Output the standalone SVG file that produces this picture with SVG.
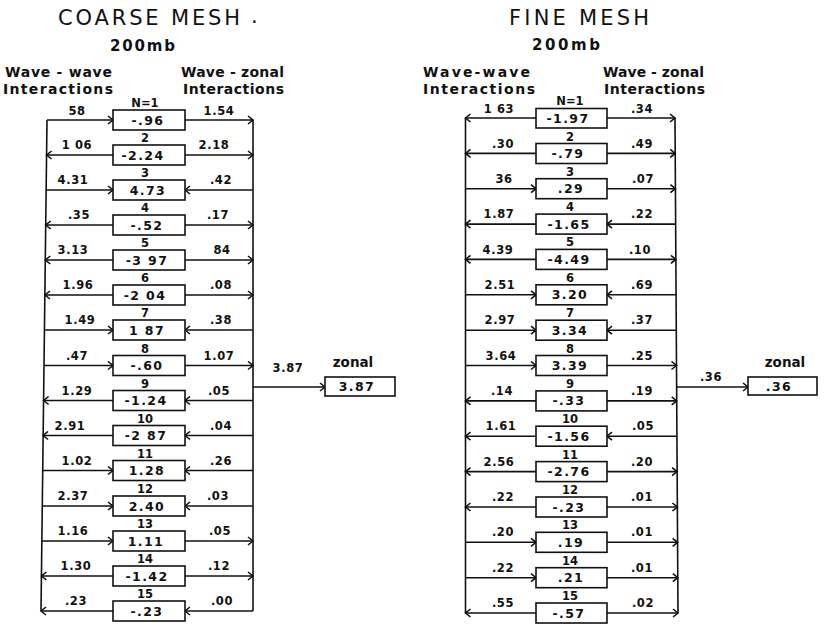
<svg xmlns="http://www.w3.org/2000/svg" width="824" height="626" viewBox="0 0 824 626">
<style>
.ln{stroke:#111;stroke-width:1.6;fill:none}
.bx{fill:#fff;stroke:#111;stroke-width:1.6}
.v{font-family:"DejaVu Sans","Liberation Sans",sans-serif;font-weight:bold;font-size:12.5px;letter-spacing:1.4px;text-anchor:middle;fill:#111}
.e{font-family:"DejaVu Sans","Liberation Sans",sans-serif;font-weight:bold;font-size:11.5px;letter-spacing:0.6px;text-anchor:middle;fill:#111}
.i{font-family:"DejaVu Sans","Liberation Sans",sans-serif;font-weight:bold;font-size:11.5px;text-anchor:middle;fill:#111}
.h{font-family:"DejaVu Sans","Liberation Sans",sans-serif;font-weight:bold;font-size:14px;fill:#111}
.t{font-family:"DejaVu Sans","Liberation Sans",sans-serif;font-size:21px;fill:#111}
.s{font-family:"DejaVu Sans","Liberation Sans",sans-serif;font-weight:bold;font-size:15px;fill:#111}
.z{font-family:"DejaVu Sans","Liberation Sans",sans-serif;font-weight:bold;font-size:13.5px;text-anchor:middle;fill:#111}
</style>
<defs>
<marker id="ah" markerUnits="userSpaceOnUse" markerWidth="10" markerHeight="10" refX="8" refY="5" orient="auto">
<path d="M3,1 L8,5 L3,9" fill="none" stroke="#111" stroke-width="1.6"/>
</marker>
</defs>
<rect width="824" height="626" fill="#fff"/>

<g id="headings">
<text class="t" x="58" y="25" textLength="182" lengthAdjust="spacing">COARSE MESH</text>
<text class="t" x="251" y="23">.</text>
<text class="s" x="110" y="51" textLength="65" lengthAdjust="spacing">200mb</text>
<text class="h" x="5" y="77" textLength="107" lengthAdjust="spacing">Wave - wave</text>
<text class="h" x="3" y="94" textLength="110" lengthAdjust="spacing">Interactions</text>
<text class="h" x="181" y="77" textLength="103" lengthAdjust="spacing">Wave - zonal</text>
<text class="h" x="183" y="94" textLength="101" lengthAdjust="spacing">Interactions</text>
<text class="t" x="509" y="25" textLength="140" lengthAdjust="spacing">FINE MESH</text>
<text class="s" x="532" y="50" textLength="68" lengthAdjust="spacing">200mb</text>
<text class="h" x="423" y="77" textLength="107" lengthAdjust="spacing">Wave-wave</text>
<text class="h" x="423" y="94" textLength="112" lengthAdjust="spacing">Interactions</text>
<text class="h" x="603" y="77" textLength="101" lengthAdjust="spacing">Wave - zonal</text>
<text class="h" x="604" y="94" textLength="101" lengthAdjust="spacing">Interactions</text>
</g>

<g id="connectors">
<path class="ln" d="M47,120 L41,611"/>
<path class="ln" d="M253,120 L253,611"/>
<path class="ln" d="M47,120 H113" marker-end="url(#ah)"/>
<path class="ln" d="M185,120 H253" marker-end="url(#ah)"/>
<path class="ln" d="M113,155 H46.6" marker-end="url(#ah)"/>
<path class="ln" d="M185,155 H253" marker-end="url(#ah)"/>
<path class="ln" d="M46.1,190 H113" marker-end="url(#ah)"/>
<path class="ln" d="M253,190 H185" marker-end="url(#ah)"/>
<path class="ln" d="M113,225 H45.7" marker-end="url(#ah)"/>
<path class="ln" d="M185,225 H253" marker-end="url(#ah)"/>
<path class="ln" d="M113,260 H45.3" marker-end="url(#ah)"/>
<path class="ln" d="M185,260 H253" marker-end="url(#ah)"/>
<path class="ln" d="M113,295 H44.9" marker-end="url(#ah)"/>
<path class="ln" d="M185,295 H253" marker-end="url(#ah)"/>
<path class="ln" d="M44.4,330 H113" marker-end="url(#ah)"/>
<path class="ln" d="M253,330 H185" marker-end="url(#ah)"/>
<path class="ln" d="M44,365.5 H113" marker-end="url(#ah)"/>
<path class="ln" d="M185,365.5 H253" marker-end="url(#ah)"/>
<path class="ln" d="M113,400.5 H43.6" marker-end="url(#ah)"/>
<path class="ln" d="M253,400.5 H185" marker-end="url(#ah)"/>
<path class="ln" d="M113,435.5 H43.1" marker-end="url(#ah)"/>
<path class="ln" d="M253,435.5 H185" marker-end="url(#ah)"/>
<path class="ln" d="M42.7,470.5 H113" marker-end="url(#ah)"/>
<path class="ln" d="M253,470.5 H185" marker-end="url(#ah)"/>
<path class="ln" d="M42.3,506 H113" marker-end="url(#ah)"/>
<path class="ln" d="M253,506 H185" marker-end="url(#ah)"/>
<path class="ln" d="M41.9,541 H113" marker-end="url(#ah)"/>
<path class="ln" d="M185,541 H253" marker-end="url(#ah)"/>
<path class="ln" d="M113,576 H41.4" marker-end="url(#ah)"/>
<path class="ln" d="M185,576 H253" marker-end="url(#ah)"/>
<path class="ln" d="M113,611 H41" marker-end="url(#ah)"/>
<path class="ln" d="M253,611 H185" marker-end="url(#ah)"/>
<path class="ln" d="M253,387 H325" marker-end="url(#ah)"/>
<path class="ln" d="M465.5,118 L465.5,613"/>
<path class="ln" d="M675,118 L678,613"/>
<path class="ln" d="M536,118 H465.5" marker-end="url(#ah)"/>
<path class="ln" d="M607,118 H675" marker-end="url(#ah)"/>
<path class="ln" d="M536,153.4 H465.5" marker-end="url(#ah)"/>
<path class="ln" d="M607,153.4 H675.2" marker-end="url(#ah)"/>
<path class="ln" d="M465.5,188.7 H536" marker-end="url(#ah)"/>
<path class="ln" d="M607,188.7 H675.4" marker-end="url(#ah)"/>
<path class="ln" d="M536,224.1 H465.5" marker-end="url(#ah)"/>
<path class="ln" d="M675.6,224.1 H607" marker-end="url(#ah)"/>
<path class="ln" d="M536,259.4 H465.5" marker-end="url(#ah)"/>
<path class="ln" d="M607,259.4 H675.9" marker-end="url(#ah)"/>
<path class="ln" d="M465.5,294.8 H536" marker-end="url(#ah)"/>
<path class="ln" d="M676.1,294.8 H607" marker-end="url(#ah)"/>
<path class="ln" d="M465.5,330.2 H536" marker-end="url(#ah)"/>
<path class="ln" d="M676.3,330.2 H607" marker-end="url(#ah)"/>
<path class="ln" d="M465.5,365.5 H536" marker-end="url(#ah)"/>
<path class="ln" d="M607,365.5 H676.5" marker-end="url(#ah)"/>
<path class="ln" d="M536,400.9 H465.5" marker-end="url(#ah)"/>
<path class="ln" d="M607,400.9 H676.7" marker-end="url(#ah)"/>
<path class="ln" d="M536,436.2 H465.5" marker-end="url(#ah)"/>
<path class="ln" d="M676.9,436.2 H607" marker-end="url(#ah)"/>
<path class="ln" d="M536,471.6 H465.5" marker-end="url(#ah)"/>
<path class="ln" d="M607,471.6 H677.1" marker-end="url(#ah)"/>
<path class="ln" d="M536,507 H465.5" marker-end="url(#ah)"/>
<path class="ln" d="M607,507 H677.4" marker-end="url(#ah)"/>
<path class="ln" d="M465.5,542.3 H536" marker-end="url(#ah)"/>
<path class="ln" d="M607,542.3 H677.6" marker-end="url(#ah)"/>
<path class="ln" d="M465.5,577.7 H536" marker-end="url(#ah)"/>
<path class="ln" d="M607,577.7 H677.8" marker-end="url(#ah)"/>
<path class="ln" d="M536,613 H465.5" marker-end="url(#ah)"/>
<path class="ln" d="M607,613 H678" marker-end="url(#ah)"/>
<path class="ln" d="M676.6,387 H748" marker-end="url(#ah)"/>
</g>

<g id="edge-labels">
<text class="e" x="77" y="114.5">58</text><text class="e" x="219" y="114.5">1.54</text>
<text class="e" x="77" y="149">1 06</text><text class="e" x="214" y="149">2.18</text>
<text class="e" x="73" y="184">4.31</text><text class="e" x="221" y="184">.42</text>
<text class="e" x="79" y="219">.35</text><text class="e" x="218" y="219">.17</text>
<text class="e" x="73" y="254">3.13</text><text class="e" x="222" y="254">84</text>
<text class="e" x="78" y="289">1.96</text><text class="e" x="221" y="289">.08</text>
<text class="e" x="80" y="324">1.49</text><text class="e" x="221" y="324">.38</text>
<text class="e" x="77" y="359.5">.47</text><text class="e" x="219" y="359.5">1.07</text>
<text class="e" x="77" y="394.5">1.29</text><text class="e" x="219" y="394.5">.05</text>
<text class="e" x="70" y="429.5">2.91</text><text class="e" x="221" y="429.5">.04</text>
<text class="e" x="77" y="464.5">1.02</text><text class="e" x="221" y="464.5">.26</text>
<text class="e" x="73" y="500">2.37</text><text class="e" x="218" y="500">.03</text>
<text class="e" x="73" y="535">1.16</text><text class="e" x="220" y="535">.05</text>
<text class="e" x="76" y="570">1.30</text><text class="e" x="219" y="570">.12</text>
<text class="e" x="76" y="605">.23</text><text class="e" x="222" y="605">.00</text>
<text class="e" x="288" y="372">3.87</text>

<text class="e" x="499" y="112.5">1 63</text><text class="e" x="642" y="112.5">.34</text>
<text class="e" x="503" y="147.5">.30</text><text class="e" x="642" y="147.5">.49</text>
<text class="e" x="504" y="183">36</text><text class="e" x="643" y="183">.07</text>
<text class="e" x="499" y="218">1.87</text><text class="e" x="642" y="218">.22</text>
<text class="e" x="498" y="253.5">4.39</text><text class="e" x="640" y="253.5">.10</text>
<text class="e" x="500" y="289">2.51</text><text class="e" x="642" y="289">.69</text>
<text class="e" x="500" y="324">2.97</text><text class="e" x="642" y="324">.37</text>
<text class="e" x="501" y="359.5">3.64</text><text class="e" x="642" y="359.5">.25</text>
<text class="e" x="502" y="395">.14</text><text class="e" x="642" y="395">.19</text>
<text class="e" x="501" y="430">1.61</text><text class="e" x="643" y="430">.05</text>
<text class="e" x="499" y="465.5">2.56</text><text class="e" x="642" y="465.5">.20</text>
<text class="e" x="503" y="501">.22</text><text class="e" x="642" y="501">.01</text>
<text class="e" x="503" y="536">.20</text><text class="e" x="642" y="536">.01</text>
<text class="e" x="503" y="571.5">.22</text><text class="e" x="642" y="571.5">.01</text>
<text class="e" x="503" y="607">.55</text><text class="e" x="643" y="607">.02</text>
<text class="e" x="711" y="381">.36</text>
</g>

<g id="coarse-nodes">
<g id="c1"><rect class="bx" x="113" y="110" width="72" height="20"/><text class="i" x="145" y="107">N=1</text><text class="v" x="148" y="124.5">-.96</text></g>
<g id="c2"><rect class="bx" x="113" y="145" width="72" height="20"/><text class="i" x="145" y="142">2</text><text class="v" x="143" y="159.5">-2.24</text></g>
<g id="c3"><rect class="bx" x="113" y="180" width="72" height="20"/><text class="i" x="145" y="177">3</text><text class="v" x="148" y="194.5">4.73</text></g>
<g id="c4"><rect class="bx" x="113" y="215" width="72" height="20"/><text class="i" x="145" y="212">4</text><text class="v" x="147" y="229.5">-.52</text></g>
<g id="c5"><rect class="bx" x="113" y="250" width="72" height="20"/><text class="i" x="145" y="247">5</text><text class="v" x="147" y="264.5">-3 97</text></g>
<g id="c6"><rect class="bx" x="113" y="285" width="72" height="20"/><text class="i" x="145" y="282">6</text><text class="v" x="145" y="299.5">-2 04</text></g>
<g id="c7"><rect class="bx" x="113" y="320" width="72" height="20"/><text class="i" x="145" y="317">7</text><text class="v" x="147" y="334.5">1 87</text></g>
<g id="c8"><rect class="bx" x="113" y="355.5" width="72" height="20"/><text class="i" x="145" y="352.5">8</text><text class="v" x="147" y="370">-.60</text></g>
<g id="c9"><rect class="bx" x="113" y="390.5" width="72" height="20"/><text class="i" x="145" y="387.5">9</text><text class="v" x="146" y="405">-1.24</text></g>
<g id="c10"><rect class="bx" x="113" y="425.5" width="72" height="20"/><text class="i" x="145" y="422.5">10</text><text class="v" x="146" y="440">-2 87</text></g>
<g id="c11"><rect class="bx" x="113" y="460.5" width="72" height="20"/><text class="i" x="145" y="457.5">11</text><text class="v" x="147" y="475">1.28</text></g>
<g id="c12"><rect class="bx" x="113" y="496" width="72" height="20"/><text class="i" x="145" y="493">12</text><text class="v" x="147" y="510.5">2.40</text></g>
<g id="c13"><rect class="bx" x="113" y="531" width="72" height="20"/><text class="i" x="145" y="528">13</text><text class="v" x="146" y="545.5">1.11</text></g>
<g id="c14"><rect class="bx" x="113" y="566" width="72" height="20"/><text class="i" x="145" y="563">14</text><text class="v" x="147" y="580.5">-1.42</text></g>
<g id="c15"><rect class="bx" x="113" y="601" width="72" height="20"/><text class="i" x="145" y="598">15</text><text class="v" x="147" y="615.5">-.23</text></g>
<g id="c-zonal"><rect class="bx" x="325" y="377" width="70" height="19"/><text class="z" x="353" y="367">zonal</text><text class="v" x="357" y="391">3.87</text></g>
</g>

<g id="fine-nodes">
<g id="f1"><rect class="bx" x="536" y="108.5" width="71" height="19.5"/><text class="i" x="570" y="105">N=1</text><text class="v" x="568" y="122.5">-1.97</text></g>
<g id="f2"><rect class="bx" x="536" y="143.5" width="71" height="20"/><text class="i" x="570" y="140.5">2</text><text class="v" x="568" y="158">-.79</text></g>
<g id="f3"><rect class="bx" x="536" y="178.7" width="71" height="20"/><text class="i" x="570" y="175.7">3</text><text class="v" x="571" y="193.2">.29</text></g>
<g id="f4"><rect class="bx" x="536" y="214.1" width="71" height="20"/><text class="i" x="570" y="211.1">4</text><text class="v" x="569" y="228.6">-1.65</text></g>
<g id="f5"><rect class="bx" x="536" y="249.4" width="71" height="20"/><text class="i" x="570" y="246.4">5</text><text class="v" x="569" y="263.9">-4.49</text></g>
<g id="f6"><rect class="bx" x="536" y="284.8" width="71" height="20"/><text class="i" x="570" y="281.8">6</text><text class="v" x="570" y="299.3">3.20</text></g>
<g id="f7"><rect class="bx" x="536" y="320.2" width="71" height="20"/><text class="i" x="570" y="317.2">7</text><text class="v" x="570" y="334.7">3.34</text></g>
<g id="f8"><rect class="bx" x="536" y="355.5" width="71" height="20"/><text class="i" x="570" y="352.5">8</text><text class="v" x="570" y="370">3.39</text></g>
<g id="f9"><rect class="bx" x="536" y="390.9" width="71" height="20"/><text class="i" x="570" y="387.9">9</text><text class="v" x="569" y="405.4">-.33</text></g>
<g id="f10"><rect class="bx" x="536" y="426.2" width="71" height="20"/><text class="i" x="570" y="423.2">10</text><text class="v" x="569" y="440.7">-1.56</text></g>
<g id="f11"><rect class="bx" x="536" y="461.6" width="71" height="20"/><text class="i" x="570" y="458.6">11</text><text class="v" x="569" y="476.1">-2.76</text></g>
<g id="f12"><rect class="bx" x="536" y="497" width="71" height="20"/><text class="i" x="570" y="494">12</text><text class="v" x="569" y="511.5">-.23</text></g>
<g id="f13"><rect class="bx" x="536" y="532.3" width="71" height="20"/><text class="i" x="570" y="529.3">13</text><text class="v" x="571" y="546.8">.19</text></g>
<g id="f14"><rect class="bx" x="536" y="567.7" width="71" height="20"/><text class="i" x="570" y="564.7">14</text><text class="v" x="571" y="582.2">.21</text></g>
<g id="f15"><rect class="bx" x="536" y="603" width="71" height="20"/><text class="i" x="570" y="600">15</text><text class="v" x="569" y="617.5">-.57</text></g>
<g id="f-zonal"><rect class="bx" x="748" y="377" width="69" height="18"/><text class="z" x="785" y="367">zonal</text><text class="v" x="779" y="391">.36</text></g>
</g>
</svg>
